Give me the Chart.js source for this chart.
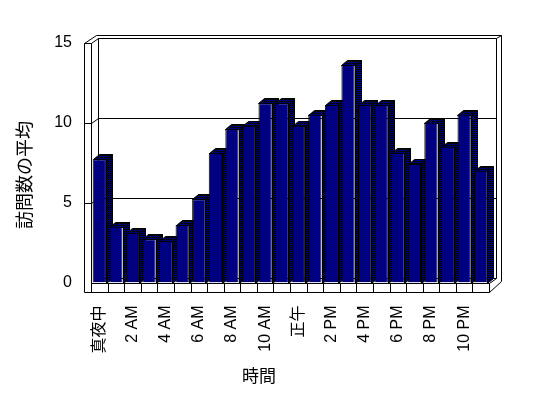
<!DOCTYPE html>
<html>
<head>
<meta charset="utf-8">
<script src="https://cdn.jsdelivr.net/npm/chart.js@4.4.1/dist/chart.umd.min.js"></script>
<style>
    html, body { margin: 0; padding: 0; background: #fff; }
    #wrap { width: 548px; height: 398px; }
</style>
</head>
<body>
<div id="wrap"><canvas id="visitsByHour" width="548" height="398"></canvas></div>
<script>
// Categories (hour of day)
const hourLabels = [
    '真夜中', '1 AM', '2 AM', '3 AM', '4 AM', '5 AM', '6 AM', '7 AM', '8 AM', '9 AM', '10 AM', '11 AM',
    '正午', '1 PM', '2 PM', '3 PM', '4 PM', '5 PM', '6 PM', '7 PM', '8 PM', '9 PM', '10 PM', '11 PM'
];
// Average visits per hour
const avgVisits = [
    7.7, 3.5, 3.1, 2.7, 2.6, 3.6, 5.2, 8.1, 9.6, 9.8, 11.2, 11.2,
    9.8, 10.5, 11.1, 13.6, 11.1, 11.1, 8.1, 7.4, 10.0, 8.5, 10.5, 7.0
];
// Value axis ticks
const yTicks = [0, 5, 10, 15];
const yAxisTitle = '訪問数の平均';
const xAxisTitle = '時間';

const FRONT_COLOR = '#000080';
const TEXT_FONT = '"Liberation Sans", "Noto Sans CJK JP", sans-serif';
const CJK_FONT = '"Noto Sans CJK JP", sans-serif';

//3D look
const barDepth = { x: 6, y: 5 };
const wallInner = { x: 7, y: 5 };
const wallOuter = { x: 12, y: 8 };
const wallThick = 7.5;
const floorThick = 9;

function px(v) {
    return Math.round(v) + 0.5;
}
function line(ctx, x1, y1, x2, y2) {
    ctx.beginPath();
    ctx.moveTo(px(x1), px(y1));
    ctx.lineTo(px(x2), px(y2));
    ctx.stroke();
}
function poly(ctx, pts, fill) {
    ctx.beginPath();
    pts.forEach((p, i) => i ? ctx.lineTo(px(p[0]), px(p[1])) : ctx.moveTo(px(p[0]), px(p[1])));
    ctx.closePath();
    ctx.fillStyle = fill;
    ctx.fill();
    ctx.stroke();
}
// navy / black checker like the old dithered shading
function ditherPattern(ctx) {
    const c = document.createElement('canvas');
    c.width = 2;
    c.height = 2;
    const g = c.getContext('2d');
    g.fillStyle = '#000';
    g.fillRect(0, 0, 2, 2);
    g.fillStyle = FRONT_COLOR;
    g.fillRect(0, 0, 1, 1);
    g.fillRect(1, 1, 1, 1);
    return ctx.createPattern(c, 'repeat');
}

const boxPlugin = {
    id: 'box3d',
    beforeDatasetsDraw(chart) {
        const ctx = chart.ctx;
        const { left: L, right: R } = chart.chartArea;
        const xs = chart.scales.x;
        const ys = chart.scales.y;
        const T = ys.getPixelForValue(yTicks[yTicks.length - 1]);
        const B = ys.getPixelForValue(0);
        const wi = wallInner, wo = wallOuter;
        ctx.save();
        ctx.strokeStyle = '#000';
        ctx.lineWidth = 1;

        // back wall
        line(ctx, L + wi.x, T - wi.y, R + wi.x, T - wi.y);
        line(ctx, R + wi.x, T - wi.y, R + wi.x, B - wi.y);
        line(ctx, L + wi.x, T - wi.y, L + wi.x, B - wi.y);
        line(ctx, L + wi.x, B - wi.y, R + wi.x, B - wi.y);
        line(ctx, L - wallThick + wo.x, T - wo.y, R + wo.x, T - wo.y);
        line(ctx, R + wo.x, T - wo.y, R + wo.x, B + floorThick - 10.5);
        line(ctx, R + wi.x, T - wi.y, R + wo.x, T - wo.y);

        // left wall
        line(ctx, L - wallThick, T, L, T);
        line(ctx, L - wallThick, T, L - wallThick, B + floorThick);
        line(ctx, L, T, L, B + floorThick);
        line(ctx, L - wallThick, T, L - wallThick + wo.x, T - wo.y);
        line(ctx, L, T, L + wi.x, T - wi.y);

        // gridlines
        yTicks.forEach(v => {
            if (v <= 0 || v >= yTicks[yTicks.length - 1]) return;
            const yy = ys.getPixelForValue(v);
            line(ctx, L - wallThick, yy, L, yy);
            line(ctx, L, yy, L + wi.x, yy - wi.y);
            line(ctx, L + wi.x, yy - wi.y, R + wi.x, yy - wi.y);
        });

        // floor
        line(ctx, L - wallThick, B + floorThick, R, B + floorThick);
        line(ctx, L, B, R, B);
        line(ctx, R, B, R, B + floorThick);
        line(ctx, R, B + floorThick, R + wo.x, B + floorThick - 10.5);
        line(ctx, R, B, R + wi.x, B - wi.y);
        for (let i = 1; i < hourLabels.length; i++) {
            const xb = (xs.getPixelForValue(i - 1) + xs.getPixelForValue(i)) / 2;
            line(ctx, xb, B, xb, B + floorThick);
        }

        // bar tops and sides
        const shade = ditherPattern(ctx);
        chart.getDatasetMeta(0).data.forEach(bar => {
            const p = bar.getProps(['x', 'y', 'base', 'width'], true);
            const x0 = p.x - p.width / 2;
            const x1 = p.x + p.width / 2;
            const d = barDepth;
            poly(ctx, [[x1, p.y], [x1 + d.x, p.y - d.y], [x1 + d.x, p.base - d.y], [x1, p.base]], shade);
            poly(ctx, [[x0, p.y], [x0 + d.x, p.y - d.y], [x1 + d.x, p.y - d.y], [x1, p.y]], shade);
        });
        ctx.restore();
    },
    afterDraw(chart) {
        const ctx = chart.ctx;
        ctx.save();
        ctx.fillStyle = '#000';
        ctx.textAlign = 'center';
        ctx.textBaseline = 'middle';
        ctx.font = '17px ' + CJK_FONT;
        ctx.fillText(xAxisTitle, 259, 376);
        ctx.translate(24, 175);
        ctx.rotate(-Math.PI / 2);
        ctx.font = '18px ' + CJK_FONT;
        ctx.fillText(yAxisTitle, 0, 0);
        ctx.restore();
    }
};

const visitsConfig = {
    type: 'bar',
    data: {
        labels: hourLabels,
        datasets: [{
            label: yAxisTitle,
            data: avgVisits,
            backgroundColor: FRONT_COLOR,
            borderColor: '#000',
            borderWidth: 1,
            categoryPercentage: 1,
            barPercentage: 0.8
        }]
    },
    options: {
        responsive: false,
        animation: false,
        devicePixelRatio: 1,
        layout: { padding: { left: 0, right: 59, top: 42.5, bottom: 0 } },
        plugins: {
            legend: { display: false },
            tooltip: { enabled: false }
        },
        scales: {
            x: {
                grid: { display: false, drawTicks: false },
                border: { display: false },
                afterFit(scale) { scale.height = 115.5; },
                ticks: {
                    autoSkip: false,
                    minRotation: 90,
                    maxRotation: 90,
                    padding: 23,
                    color: '#000',
                    font: { family: TEXT_FONT, size: 16 },
                    callback: function (val, i) {
                        return i % 2 === 0 ? this.getLabelForValue(val) : '';
                    }
                }
            },
            y: {
                min: 0,
                max: 15,
                grid: { display: false, drawTicks: false },
                border: { display: false },
                afterFit(scale) { scale.width = 91; },
                ticks: {
                    stepSize: 5,
                    padding: 19,
                    color: '#000',
                    font: { family: TEXT_FONT, size: 16 }
                }
            }
        }
    },
    plugins: [boxPlugin]
};

new Chart(document.getElementById('visitsByHour'), visitsConfig);
</script>
</body>
</html>
